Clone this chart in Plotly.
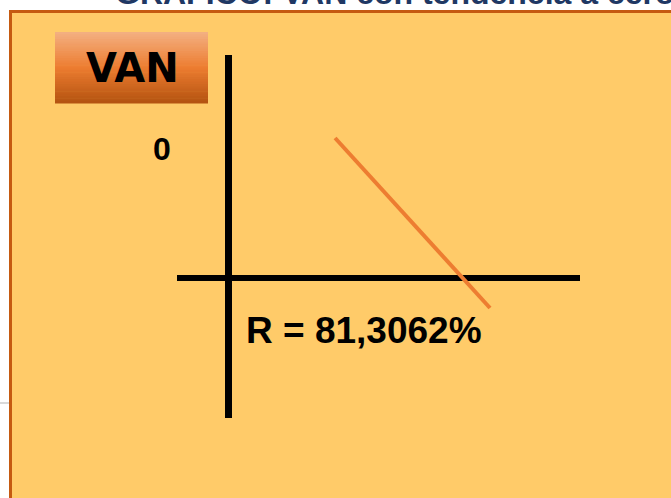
import plotly.graph_objects as go

# Datos: tasa de descuento (%) y VAN (unidades relativas)
tasa = [37.1, 90.8]
van = [140, -30]
tir = "81,3062%"
titulo = "GRÁFICO: VAN con tendencia a cero"

W, H = 671, 498
ML, MR, MT, MB = 177, 91, 55, 80
PW, PH = W - ML - MR, H - MT - MB


def px(x):
    return (x - ML) / PW


def py(y):
    return 1 - (y - MT) / PH


fig = go.Figure()
fig.add_trace(go.Scatter(x=tasa, y=van, mode="lines",
                         line=dict(color="#ED7D31", width=4),
                         hoverinfo="skip", showlegend=False))

shapes = []
# marco naranja
shapes.append(dict(type="rect", xref="paper", yref="paper",
                   x0=px(10.5), x1=px(690), y0=py(11.5), y1=py(520),
                   fillcolor="#FFCB69", line=dict(color="#C55A11", width=3),
                   layer="below"))
# linea gris a la izquierda
shapes.append(dict(type="line", xref="paper", yref="paper",
                   x0=px(0), x1=px(9), y0=py(403), y1=py(403),
                   line=dict(color="#D9D9D9", width=2), layer="below"))

# etiqueta VAN con degradado
top_c = (244, 177, 131)
mid_c = (237, 125, 49)
bot_c = (180, 83, 16)
n = 30
y_top, y_bot = 32, 103
for i in range(n):
    t = (i + 0.5) / n
    if t < 0.5:
        a, b, f = top_c, mid_c, t / 0.5
    else:
        a, b, f = mid_c, bot_c, (t - 0.5) / 0.5
    c = tuple(int(a[k] + (b[k] - a[k]) * f) for k in range(3))
    y0 = y_top + (y_bot - y_top) * i / n
    y1 = y_top + (y_bot - y_top) * (i + 1) / n + 0.6
    shapes.append(dict(type="rect", xref="paper", yref="paper",
                       x0=px(55), x1=px(208), y0=py(y1), y1=py(y0),
                       fillcolor="rgb(%d,%d,%d)" % c, line=dict(width=0),
                       layer="below"))

annotations = [
    dict(text="<b>VAN</b>", xref="paper", yref="paper", x=px(132), y=py(68),
         xanchor="center", yanchor="middle", showarrow=False,
         font=dict(family="DejaVu Sans", size=40, color="black")),
    dict(text="<b>0</b>", xref="paper", yref="paper", x=px(162), y=py(149),
         xanchor="center", yanchor="middle", showarrow=False,
         font=dict(family="Liberation Sans", size=32, color="black")),
    dict(text="<b>R = " + tir + "</b>", xref="paper", yref="paper",
         x=px(244), y=py(330), xanchor="left", yanchor="middle", showarrow=False,
         font=dict(family="Liberation Sans", size=37, color="black")),
    dict(text="<b>" + titulo + "</b>", xref="paper", yref="paper",
         x=px(113), y=py(13), xanchor="left", yanchor="bottom", showarrow=False,
         font=dict(family="Liberation Sans", size=32, color="#1F3864")),
]

fig.update_layout(
    width=W, height=H,
    margin=dict(l=ML, r=MR, t=MT, b=MB),
    paper_bgcolor="white", plot_bgcolor="rgba(0,0,0,0)",
    shapes=shapes, annotations=annotations,
    xaxis=dict(range=[-17.7, 122.0], showgrid=False, showticklabels=False,
               zeroline=True, zerolinecolor="black", zerolinewidth=7,
               ticks="", fixedrange=True),
    yaxis=dict(range=[-140, 223], showgrid=False, showticklabels=False,
               zeroline=True, zerolinecolor="black", zerolinewidth=6,
               ticks="", fixedrange=True),
)

fig.write_html("out.html", config={"displayModeBar": False},
               post_script="document.body.style.margin='0px';")
